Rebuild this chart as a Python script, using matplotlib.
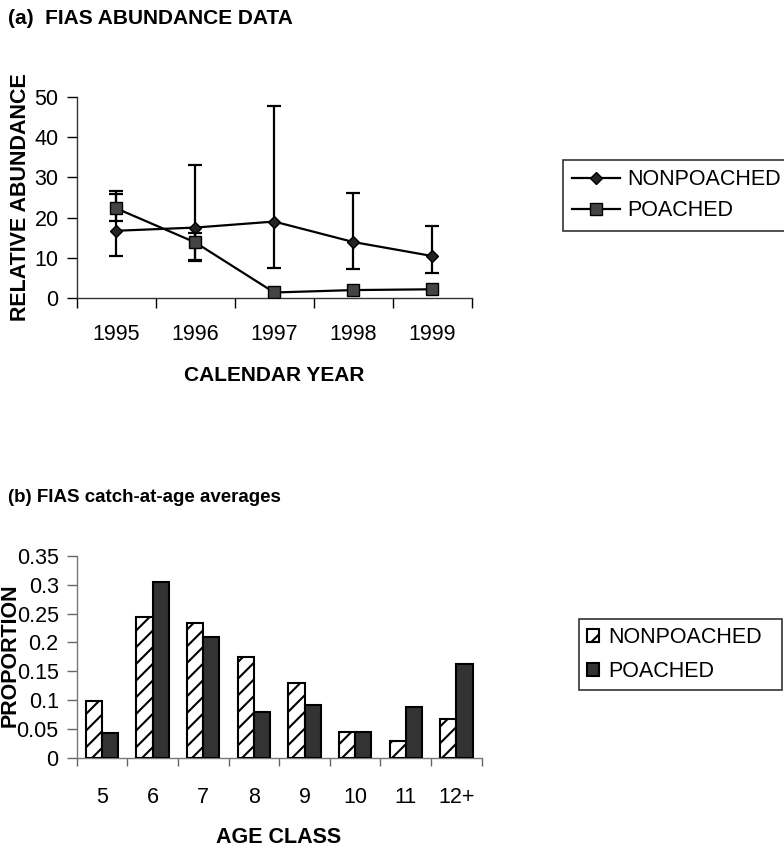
import numpy as np
import matplotlib
matplotlib.use("Agg")
import matplotlib.pyplot as plt
from matplotlib.ticker import FixedLocator, NullFormatter, FixedFormatter

plt.rcParams['font.family'] = ['Liberation Sans', 'DejaVu Sans']
plt.rcParams['hatch.linewidth'] = 1.5

# ---- data (a) ----
years = ['1995', '1996', '1997', '1998', '1999']
nonpoached = [16.7, 17.5, 19.0, 13.9, 10.4]
nonpoached_lo = [10.4, 9.5, 7.5, 7.2, 6.1]
nonpoached_hi = [26.7, 33.0, 47.8, 26.2, 17.9]
poached = [22.3, 13.8, 1.3, 1.9, 2.1]
poached_lo = [19.2, 9.2, np.nan, np.nan, np.nan]
poached_hi = [25.9, 16.1, np.nan, np.nan, np.nan]

# ---- data (b) ----
ages = ['5', '6', '7', '8', '9', '10', '11', '12+']
prop_nonpoached = [0.099, 0.245, 0.233, 0.175, 0.129, 0.044, 0.029, 0.068]
prop_poached = [0.042, 0.305, 0.210, 0.079, 0.092, 0.044, 0.088, 0.162]
yticks_b = [0, 0.05, 0.1, 0.15, 0.2, 0.25, 0.3, 0.35]
yticklabels_b = ['0', '0.05', '0.1', '0.15', '0.2', '0.25', '0.3', '0.35']

W, H = 784, 847
fig = plt.figure(figsize=(W / 100, H / 100), dpi=100)
fig.patch.set_facecolor('white')

def px(x0, y_top, x1, y_bot):
    return [x0 / W, 1 - y_bot / H, (x1 - x0) / W, (y_bot - y_top) / H]

FS = 15.5

# ---------------- panel (a) ----------------
ax1 = fig.add_axes(px(76.7, 97.3, 471.7, 297.7))
x = np.arange(len(years))
np_arr = np.array(nonpoached)
p_arr = np.array(poached)
err_np = [np_arr - np.array(nonpoached_lo), np.array(nonpoached_hi) - np_arr]
err_p = [p_arr - np.array(poached_lo), np.array(poached_hi) - p_arr]

l1 = ax1.errorbar(x, nonpoached, yerr=err_np, color='black', lw=1.6,
                  marker='D', markersize=6, markerfacecolor='#222222',
                  markeredgecolor='black', capsize=5, capthick=1.6,
                  elinewidth=1.6, label='NONPOACHED', zorder=3)
l2 = ax1.errorbar(x, poached, yerr=err_p, color='black', lw=1.6,
                  marker='s', markersize=8, markerfacecolor='#444444',
                  markeredgecolor='black', capsize=5, capthick=1.6,
                  elinewidth=1.6, label='POACHED', zorder=4)

ax1.set_xlim(-0.5, len(years) - 0.5)
ax1.set_ylim(0, 50)
ax1.set_yticks([0, 10, 20, 30, 40, 50])
ax1.xaxis.set_major_locator(FixedLocator(np.arange(-0.5, len(years), 1.0)))
ax1.xaxis.set_major_formatter(NullFormatter())
ax1.xaxis.set_minor_locator(FixedLocator(x))
ax1.xaxis.set_minor_formatter(FixedFormatter(years))
ax1.tick_params(axis='x', which='major', length=7, width=1, direction='out')
ax1.tick_params(axis='x', which='minor', length=0, pad=19, labelsize=FS)
ax1.tick_params(axis='y', length=7, width=1, pad=6, labelsize=FS)
for s in ['top', 'right']:
    ax1.spines[s].set_visible(False)
for s in ['left', 'bottom']:
    ax1.spines[s].set_linewidth(1)
    ax1.spines[s].set_color('#333333')

fig.text(8 / W, 1 - 19 / H, '(a)  FIAS ABUNDANCE DATA', fontsize=15,
         fontweight='bold', ha='left', va='center')
fig.text(274 / W, 1 - 375 / H, 'CALENDAR YEAR', fontsize=15,
         fontweight='bold', ha='center', va='center')
fig.text(21 / W, 1 - 197 / H, 'RELATIVE ABUNDANCE', fontsize=15.5,
         fontweight='bold', ha='center', va='center', rotation=90)

leg1 = fig.legend(handles=[l1.lines[0], l2.lines[0]],
                  labels=['NONPOACHED', 'POACHED'],
                  loc='upper left',
                  bbox_to_anchor=(563 / W, 1 - 230 / H, 235 / W, 70 / H),
                  mode='expand',
                  borderaxespad=0, fontsize=15.5, frameon=True, fancybox=False,
                  handlelength=2.2, handletextpad=0.35,
                  labelspacing=0.46, borderpad=0.44)
leg1.get_frame().set_edgecolor('black')
leg1.get_frame().set_linewidth(1.2)

# ---------------- panel (b) ----------------
ax2 = fig.add_axes(px(76.7, 556, 481.7, 757.7))
xb = np.arange(len(ages))
bw = 0.32
b1 = ax2.bar(xb - bw / 2, prop_nonpoached, width=bw, facecolor='white',
             edgecolor='black', hatch='//', linewidth=1.5, label='NONPOACHED',
             zorder=3)
b2 = ax2.bar(xb + bw / 2, prop_poached, width=bw, facecolor='#333333',
             edgecolor='black', linewidth=1.5, label='POACHED', zorder=3)

ax2.set_xlim(-0.5, len(ages) - 0.5)
ax2.set_ylim(0, 0.35)
ax2.set_yticks(yticks_b)
ax2.set_yticklabels(yticklabels_b)
ax2.xaxis.set_major_locator(FixedLocator(np.arange(-0.5, len(ages), 1.0)))
ax2.xaxis.set_major_formatter(NullFormatter())
ax2.xaxis.set_minor_locator(FixedLocator(xb))
ax2.xaxis.set_minor_formatter(FixedFormatter(ages))
ax2.tick_params(axis='x', which='major', length=6, width=1, direction='out',
                color='#666666')
ax2.tick_params(axis='x', which='minor', length=0, pad=21, labelsize=FS)
ax2.tick_params(axis='y', length=7, width=1, pad=6, labelsize=FS,
                color='#666666')
for s in ['top', 'right']:
    ax2.spines[s].set_visible(False)
for s in ['left', 'bottom']:
    ax2.spines[s].set_linewidth(1)
    ax2.spines[s].set_color('#777777')

fig.text(8 / W, 1 - 497 / H, '(b) FIAS catch-at-age averages', fontsize=13.5,
         fontweight='bold', ha='left', va='center')
fig.text(279 / W, 1 - 837 / H, 'AGE CLASS', fontsize=15.5,
         fontweight='bold', ha='center', va='center')
fig.text(10 / W, 1 - 655 / H, 'PROPORTION', fontsize=15.5,
         fontweight='bold', ha='center', va='center', rotation=90)

leg2 = fig.legend(handles=[b1, b2], labels=['NONPOACHED', 'POACHED'],
                  loc='upper left',
                  bbox_to_anchor=(579 / W, 1 - 688 / H, 203 / W, 69 / H),
                  mode='expand',
                  borderaxespad=0, fontsize=FS, frameon=True, fancybox=False,
                  handlelength=0.55, handleheight=0.55, handletextpad=0.45,
                  labelspacing=0.58, borderpad=0.38)
leg2.get_frame().set_edgecolor('black')
leg2.get_frame().set_linewidth(1.2)

fig.savefig('out.png', dpi=100, facecolor='white')
